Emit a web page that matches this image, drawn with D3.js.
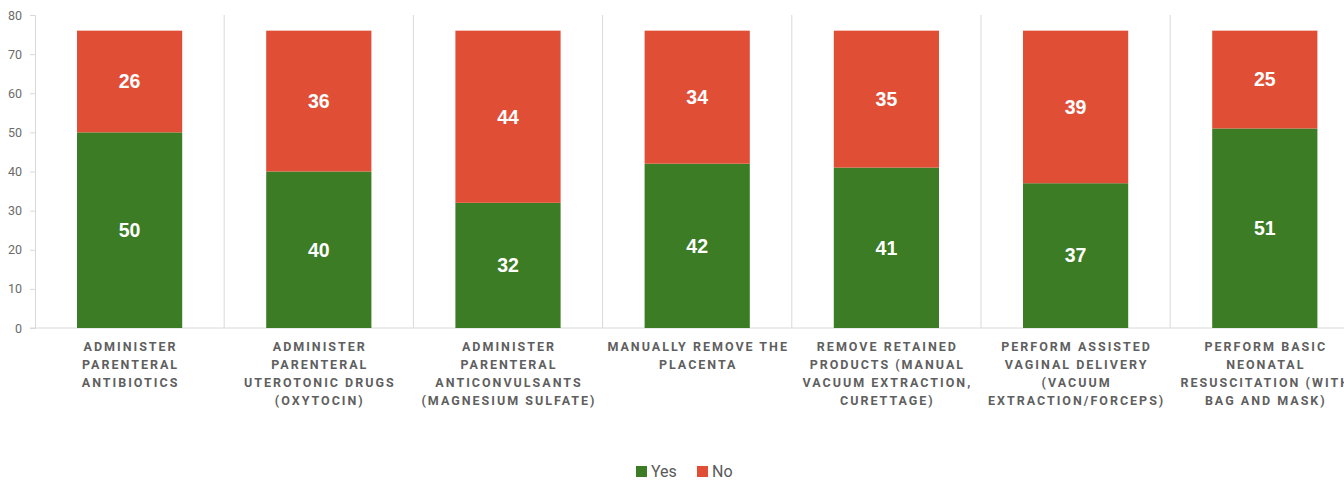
<!DOCTYPE html>
<html>
<head>
<meta charset="utf-8">
<script src="https://cdn.jsdelivr.net/npm/d3@7"></script>
<style>
  body { margin: 0; background: #fff; }
  svg { display: block; font-family: Roboto, "Liberation Sans", sans-serif; }
</style>
</head>
<body>
<svg id="chart" width="1344" height="480"></svg>
<script>
const categories = [
  'Administer parenteral antibiotics',
  'Administer parenteral uterotonic drugs (oxytocin)',
  'Administer parenteral anticonvulsants (magnesium sulfate)',
  'Manually remove the placenta',
  'Remove retained products (manual vacuum extraction, curettage)',
  'Perform assisted vaginal delivery (vacuum extraction/forceps)',
  'Perform basic neonatal resuscitation (with bag and mask)'
];
const yesValues = [50, 40, 32, 42, 41, 37, 51];
const noValues = [26, 36, 44, 34, 35, 39, 25];
const yTicks = [0, 10, 20, 30, 40, 50, 60, 70, 80];
const seriesNames = ['Yes', 'No'];
const colors = ['#3b7c24', '#e14e36'];

const svg = d3.select('#chart');
const plotLeft = 35, plotTop = 15, plotBottom = 328;
const bandW = 189.2;

const x = d3.scaleBand().domain(categories).range([plotLeft, plotLeft + bandW * categories.length]);
const y = d3.scaleLinear().domain([0, 80]).range([plotBottom, plotTop]);
const barW = x.bandwidth() * 0.556;

// separators between categories
svg.append('g').selectAll('line')
  .data(categories.slice(1)).enter().append('line')
  .attr('x1', d => x(d)).attr('x2', d => x(d))
  .attr('y1', plotTop).attr('y2', plotBottom)
  .attr('stroke', '#d9d9d9').attr('stroke-width', 1);

// y axis
const yAxis = d3.axisLeft(y).tickValues(yTicks).tickSize(5).tickPadding(8);
const yg = svg.append('g').attr('transform', `translate(${plotLeft},0)`).call(yAxis);
yg.select('.domain').attr('stroke', '#d9d9d9');
yg.selectAll('.tick line').attr('stroke', '#d9d9d9');
yg.selectAll('.tick text').attr('fill', '#6b6b6b').style('font-size', '12.5px')
  .style('font-family', 'Roboto, sans-serif');

// baseline
svg.append('line')
  .attr('x1', plotLeft - 5).attr('x2', 1344)
  .attr('y1', y(0)).attr('y2', y(0))
  .attr('stroke', '#d9d9d9');

const rows = categories.map((c, i) => ({ cat: c, Yes: yesValues[i], No: noValues[i] }));
const stacked = d3.stack().keys(seriesNames)(rows);

const layers = svg.append('g').selectAll('g')
  .data(stacked).enter().append('g')
  .attr('fill', (d, i) => colors[i]);

layers.selectAll('rect')
  .data(d => d).enter().append('rect')
  .attr('x', d => x(d.data.cat) + (x.bandwidth() - barW) / 2)
  .attr('y', d => y(d[1]))
  .attr('width', barW)
  .attr('height', d => y(d[0]) - y(d[1]));

layers.selectAll('text')
  .data(d => d).enter().append('text')
  .attr('x', d => x(d.data.cat) + x.bandwidth() / 2)
  .attr('y', d => (y(d[0]) + y(d[1])) / 2)
  .attr('dy', '0.35em')
  .attr('text-anchor', 'middle')
  .attr('fill', '#fff')
  .style('font-family', '"Liberation Sans", Arial, sans-serif')
  .style('font-weight', 'bold')
  .style('font-size', '19.5px')
  .text(d => d[1] - d[0]);

// category labels with wrapping
const labelG = svg.append('g');
const labelStyle = sel => sel.style('font-size', '12.5px').style('font-weight', 'bold').style('letter-spacing', '2px');
function wrapLines(text, maxW, measure) {
  const words = text.toUpperCase().split(' ');
  const lines = [];
  let cur = '';
  words.forEach(w => {
    const t = cur ? cur + ' ' + w : w;
    if (cur && measure(t) > maxW) { lines.push(cur); cur = w; } else cur = t;
  });
  if (cur) lines.push(cur);
  return lines;
}
const probe = labelG.append('text').call(labelStyle);
const measure = s => { probe.text(s); return probe.node().getComputedTextLength(); };

categories.forEach(c => {
  const lines = wrapLines(c, 188, measure);
  const cx = x(c) + x.bandwidth() / 2;
  const t = labelG.append('text')
    .attr('x', cx)
    .attr('y', 351)
    .attr('text-anchor', 'middle')
    .attr('fill', '#5f5f5f')
    .call(labelStyle);
  lines.forEach((l, i) => {
    t.append('tspan').attr('x', cx + 1).attr('dy', i === 0 ? 0 : 18).text(l);
  });
});
probe.remove();

// legend
const legend = svg.append('g').attr('transform', 'translate(636,471)');
const items = [{ name: 'Yes', c: colors[0], dx: 0 }, { name: 'No', c: colors[1], dx: 61 }];
items.forEach(it => {
  legend.append('rect').attr('x', it.dx).attr('y', -5).attr('width', 11).attr('height', 11).attr('fill', it.c);
  legend.append('text').attr('x', it.dx + 15).attr('y', 0).attr('dy', '0.35em')
    .attr('fill', '#595959').style('font-size', '16px').text(it.name);
});
</script>
</body>
</html>
